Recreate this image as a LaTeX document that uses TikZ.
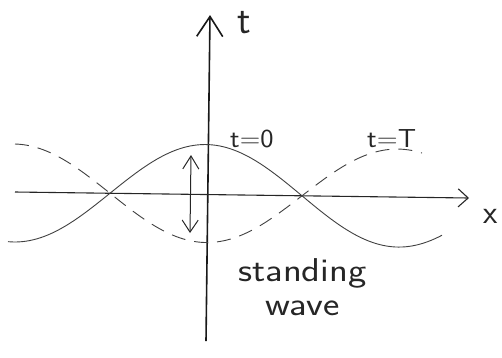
\documentclass[tikz,border=0pt]{standalone}
\usetikzlibrary{arrows.meta}
\begin{document}
\begin{tikzpicture}[x=1pt,y=-1pt,
  axis/.style={line width=1.6pt, black!90},
  waveline/.style={line width=0.9pt, black!75},
  dashwave/.style={waveline, dash pattern=on 14pt off 9pt},
  lbl/.style={font=\sffamily\fontsize{26}{30}\selectfont, inner sep=0pt, anchor=base west, text=black!85},
  biglbl/.style={lbl, font=\sffamily\fontsize{33}{40}\selectfont},
]
\useasboundingbox (0,0) rectangle (502,357);
% axes
\coordinate (tbot) at (206,341);
\coordinate (ttop) at (210,15);
\coordinate (xl) at (15,192);
\coordinate (xr) at (469,198);
\draw[axis, -{Straight Barb[length=20pt,width=26pt]}] (tbot) -- (ttop);
\draw[line width=1.1pt, black!85, -{Straight Barb[length=10pt,width=18pt]}] (xl) -- (xr);
% waves
\draw[waveline] plot[domain=8:442,samples=120] (\x,{192+0.0132*(\x-15) - 50*cos(0.9375*(\x-206))});
\draw[dashwave] plot[domain=15:422,samples=120] (\x,{192+0.0132*(\x-15) + 48*cos(0.9375*(\x-206))});
% double arrow
\coordinate (ua) at (191,155);
\coordinate (da) at (190,233);
\draw[line width=1pt, black!85, {Straight Barb[length=13pt,width=16pt]}-{Straight Barb[length=12pt,width=16pt]}] (ua) -- (da);
% labels
\node[biglbl, font=\sffamily\fontsize{40}{44}\selectfont] (tlab) at (237,33) {t};
\node[biglbl] (xlab) at (483,223) {x};
\node[lbl] (t0) at (230,147) {\scalebox{1.08}[1]{t=0}};
\node[lbl] (tT) at (367,147) {\scalebox{1.1}[1]{t=T}};
\node[biglbl, align=left] (stand) at (238,315) {\scalebox{1.18}[1]{standing}\\[-6pt]\hspace*{27pt}\scalebox{1.18}[1]{wave}};
\end{tikzpicture}
\end{document}
